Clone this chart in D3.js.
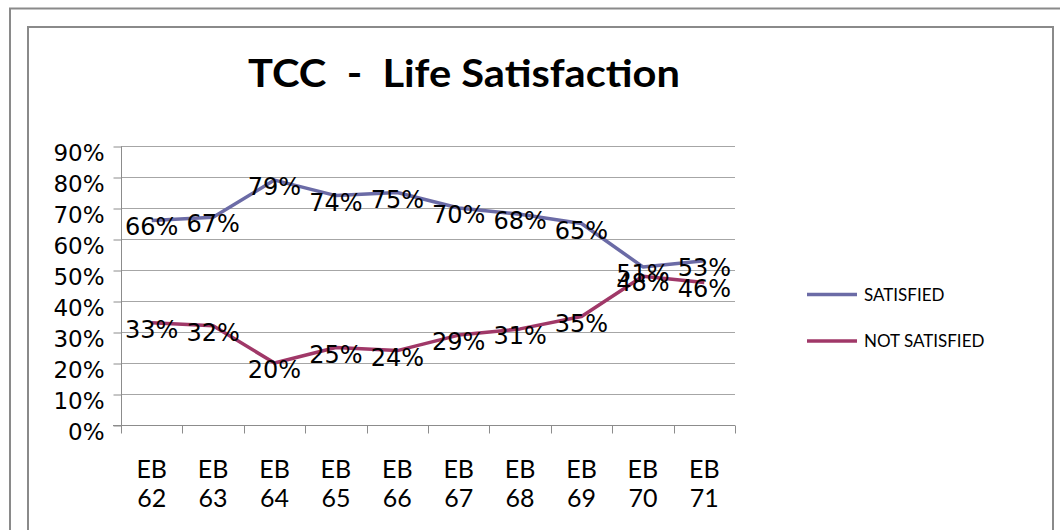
<!DOCTYPE html>
<html>
<head>
<meta charset="utf-8">
<script src="https://cdn.jsdelivr.net/npm/d3@7"></script>
<style>
  body { margin: 0; background: #fff; }
  svg { display: block; }
</style>
</head>
<body>
<div id="chart"></div>
<script>
// chart data
var categories = ['EB 62', 'EB 63', 'EB 64', 'EB 65', 'EB 66', 'EB 67', 'EB 68', 'EB 69', 'EB 70', 'EB 71'];
var satisfied = [66, 67, 79, 74, 75, 70, 68, 65, 51, 53];
var notSatisfied = [33, 32, 20, 25, 24, 29, 31, 35, 48, 46];
var yTicks = [0, 10, 20, 30, 40, 50, 60, 70, 80, 90];
var seriesNames = ['SATISFIED', 'NOT SATISFIED'];
var seriesColors = ['#6b6ba6', '#a03868'];

var width = 1060,
    height = 530;

var svg = d3.select('#chart').append('svg')
    .attr('width', width)
    .attr('height', height);

// frames
svg.append('rect')
    .attr('x', 10).attr('y', 8.5)
    .attr('width', 1100).attr('height', 600)
    .attr('fill', 'none')
    .attr('stroke', '#8a8a8a')
    .attr('stroke-width', 2);
svg.append('rect')
    .attr('x', 28).attr('y', 27)
    .attr('width', 1025).attr('height', 600)
    .attr('fill', '#fff')
    .attr('stroke', '#8a8a8a')
    .attr('stroke-width', 2);

// title
svg.append('text')
    .attr('x', 248)
    .attr('y', 87)
    .attr('textLength', 432)
    .attr('lengthAdjust', 'spacingAndGlyphs')
    .style('font-family', 'Lato, sans-serif')
    .style('font-weight', 'bold')
    .style('font-size', '38px')
    .style('white-space', 'pre')
    .text('TCC  -  Life Satisfaction');

// scales
var x = d3.scaleBand()
    .domain(categories)
    .range([121, 735]);

var y = d3.scaleLinear()
    .domain([0, 90])
    .range([425, 146]);

// gridlines
svg.append('g')
    .selectAll('line')
    .data(yTicks.slice(1))
    .enter()
    .append('line')
    .attr('x1', 121)
    .attr('x2', 735)
    .attr('y1', function (d) { return y(d) + 0.5; })
    .attr('y2', function (d) { return y(d) + 0.5; })
    .attr('stroke', '#a6a6a6')
    .attr('stroke-width', 1);

// y axis
var yAxis = d3.axisLeft(y)
    .tickValues(yTicks)
    .tickSize(8)
    .tickPadding(9)
    .tickFormat(function (d) { return d + '%'; });

var gy = svg.append('g')
    .attr('transform', 'translate(121.5,0.5)')
    .call(yAxis);
gy.selectAll('line, path').attr('stroke', '#8c8c8c');
gy.select('.domain').attr('d', 'M0,' + y(90) + 'V' + y(0));
gy.selectAll('text')
    .attr('dy', '0.62em')
    .style('font-family', 'DejaVu Sans, sans-serif')
    .style('font-size', '23px')
    .attr('fill', '#000');

// x axis
var xAxis = d3.axisBottom(x)
    .tickSize(8)
    .tickFormat('');

var gx = svg.append('g')
    .attr('transform', 'translate(0,425.5)')
    .call(xAxis);
gx.selectAll('.tick').remove();
gx.select('.domain').attr('d', 'M113,0H735').attr('stroke', '#8c8c8c');
var bounds = [121].concat(categories.map(function (c) { return x(c) + x.bandwidth(); }));
gx.selectAll('.btick')
    .data(bounds)
    .enter()
    .append('line')
    .attr('x1', function (d) { return Math.round(d) + 0.5; })
    .attr('x2', function (d) { return Math.round(d) + 0.5; })
    .attr('y1', 0)
    .attr('y2', 8)
    .attr('stroke', '#8c8c8c');

// category labels on two lines
var xl = svg.append('g')
    .selectAll('text')
    .data(categories)
    .enter()
    .append('text')
    .attr('text-anchor', 'middle')
    .style('font-family', 'Lato, sans-serif')
    .style('font-size', '25px')
    .attr('fill', '#000');
xl.append('tspan')
    .attr('x', function (d) { return x(d) + x.bandwidth() / 2; })
    .attr('y', 478)
    .text(function (d) { return d.split(' ')[0]; });
xl.append('tspan')
    .attr('x', function (d) { return x(d) + x.bandwidth() / 2; })
    .attr('y', 507)
    .text(function (d) { return d.split(' ')[1]; });

// lines
var series = [satisfied, notSatisfied];
var line = d3.line()
    .x(function (d, i) { return x(categories[i]) + x.bandwidth() / 2; })
    .y(function (d) { return y(d); });

series.forEach(function (s, k) {
    svg.append('path')
        .datum(s)
        .attr('d', line)
        .attr('fill', 'none')
        .attr('stroke', seriesColors[k])
        .attr('stroke-width', 3.5)
        .attr('stroke-linejoin', 'round');
});

// data labels
series.forEach(function (s, k) {
    svg.append('g')
        .selectAll('text')
        .data(s)
        .enter()
        .append('text')
        .attr('x', function (d, i) { return x(categories[i]) + x.bandwidth() / 2; })
        .attr('y', function (d) { return y(d) + 15; })
        .attr('text-anchor', 'middle')
        .style('font-family', 'DejaVu Sans, sans-serif')
        .style('font-size', '24px')
        .attr('fill', '#000')
        .text(function (d) { return d + '%'; });
});

// legend
var legend = svg.append('g');
seriesNames.forEach(function (name, k) {
    var ly = 294.5 + k * 46.5;
    legend.append('line')
        .attr('x1', 807).attr('x2', 857)
        .attr('y1', ly).attr('y2', ly)
        .attr('stroke', seriesColors[k])
        .attr('stroke-width', 3.5);
    legend.append('text')
        .attr('x', 864)
        .attr('y', ly + 6)
        .style('font-family', 'Lato, sans-serif')
        .style('font-size', '17px')
        .attr('fill', '#000')
        .text(name);
});
</script>
</body>
</html>
